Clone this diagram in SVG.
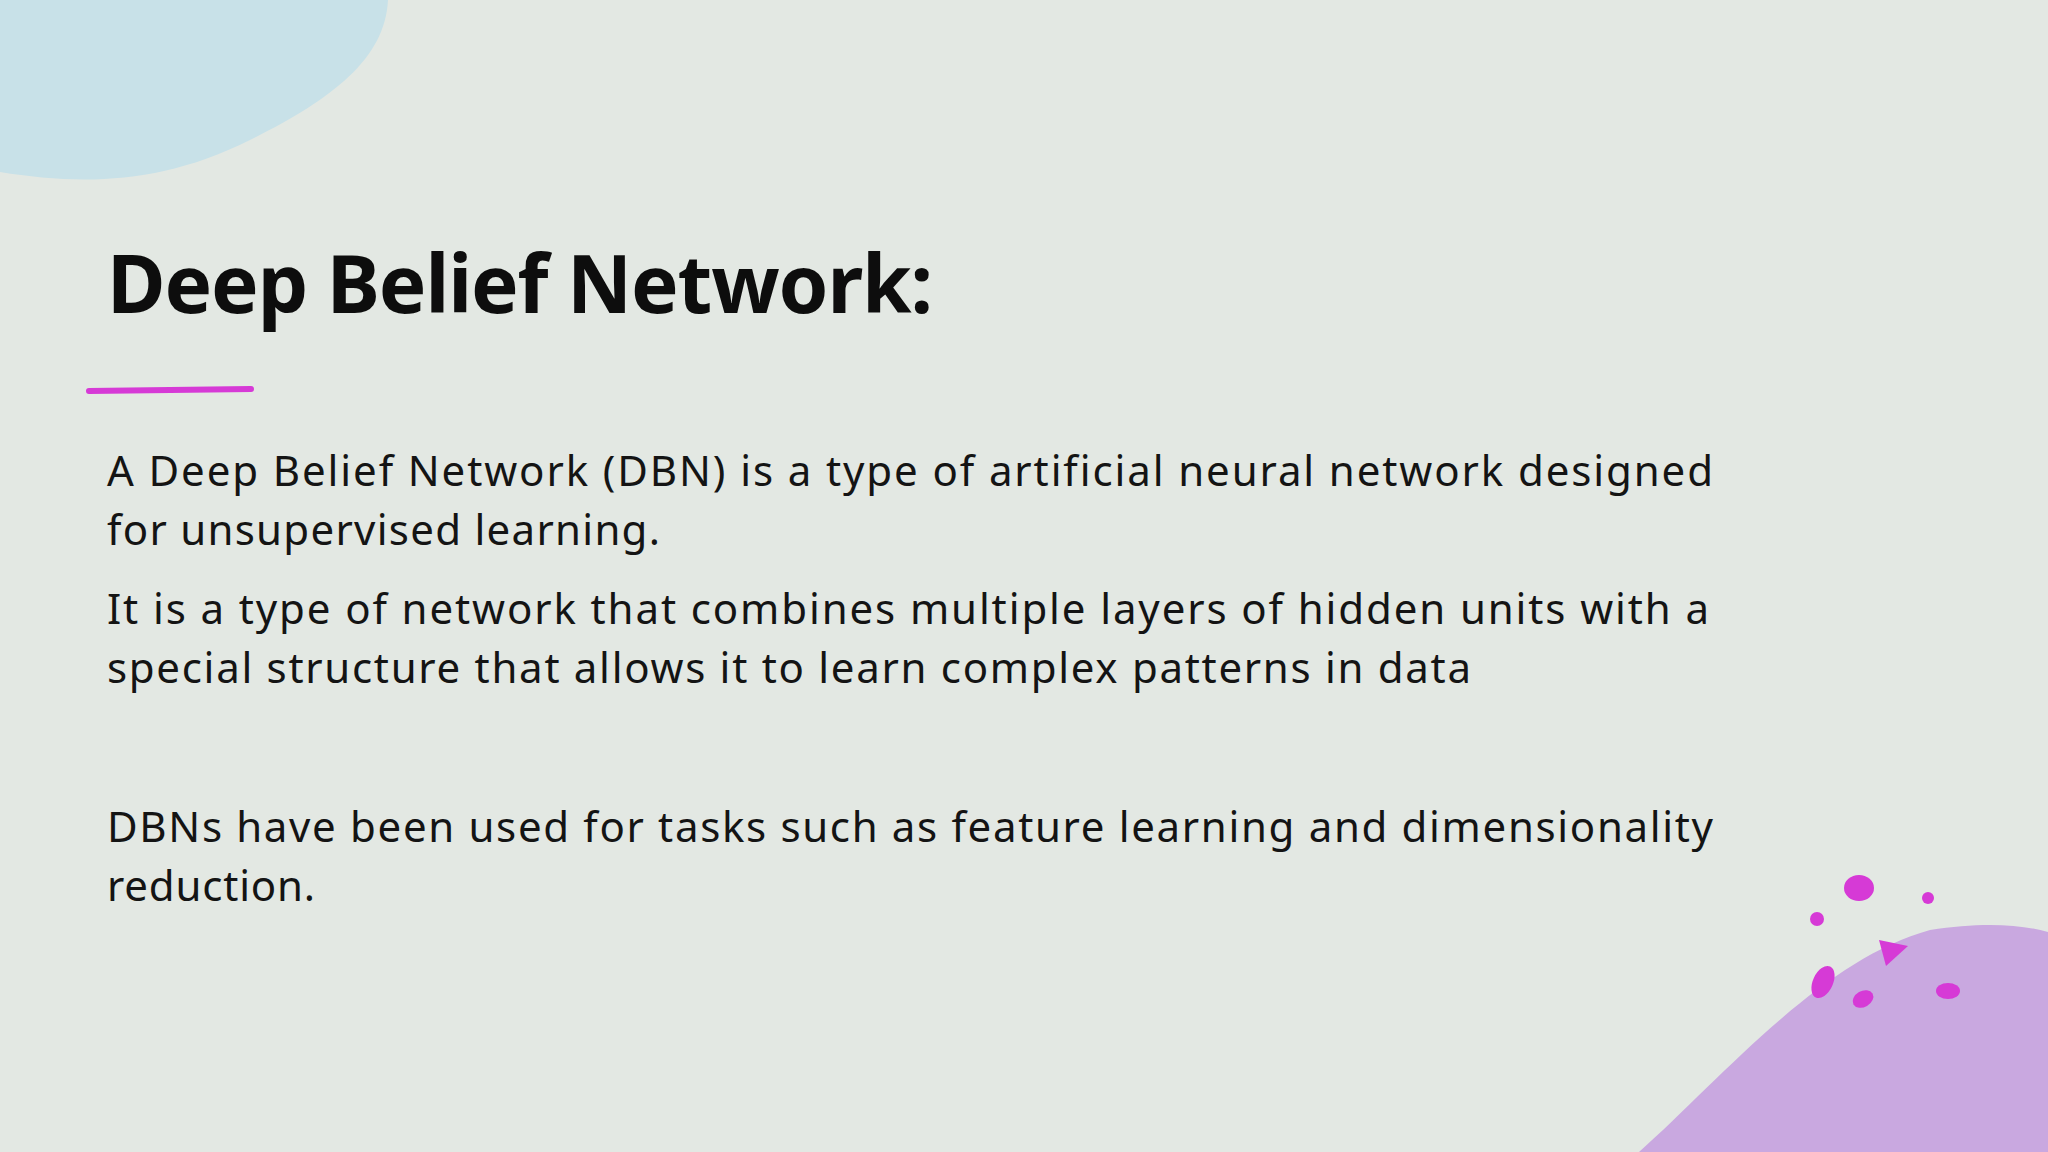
<svg xmlns="http://www.w3.org/2000/svg" width="2048" height="1152" viewBox="0 0 2048 1152">
<style>
.b{font-family:"Noto Sans","Open Sans",sans-serif;font-size:42px;fill:#141414;letter-spacing:2px}
.d{fill:#d63ad6}
</style>
<rect width="2048" height="1152" fill="#e3e8e3"/>
<path d="M0 0H388C385 60 330 100 250 140C160 185 80 185 0 172Z" fill="#c8e1e8"/>
<path d="M1639 1152C1720 1080 1820 960 1930 930C1980 922 2020 924 2048 932V1152Z" fill="#c9a8e0"/>
<g id="dots">
<ellipse class="d" cx="1859" cy="888" rx="15" ry="13"/>
<circle class="d" cx="1928" cy="898" r="6"/>
<circle class="d" cx="1817" cy="919" r="7"/>
<path class="d" d="M1879 940L1908 946L1886 966Z"/>
<ellipse class="d" cx="1823" cy="982" rx="10" ry="17" transform="rotate(25 1823 982)"/>
<ellipse class="d" cx="1863" cy="999" rx="11" ry="8" transform="rotate(-30 1863 999)"/>
<ellipse class="d" cx="1948" cy="991" rx="12" ry="8"/>
</g>
<g id="title">
<text x="107" y="313" font-family="Noto Sans,Open Sans,sans-serif" font-size="80" font-weight="bold" fill="#0d0d0d" textLength="826" lengthAdjust="spacing">Deep Belief Network:</text>
<path d="M89 391L251 389" stroke="#d63ad6" stroke-width="6" stroke-linecap="round"/>
</g>
<g id="body">
<text class="b" x="107" y="486" textLength="1608">A Deep Belief Network (DBN) is a type of artificial neural network designed</text>
<text class="b" x="107" y="545" textLength="555">for unsupervised learning.</text>
<text class="b" x="107" y="624" textLength="1604">It is a type of network that combines multiple layers of hidden units with a</text>
<text class="b" x="107" y="683" textLength="1366">special structure that allows it to learn complex patterns in data</text>
<text class="b" x="107" y="842" textLength="1608">DBNs have been used for tasks such as feature learning and dimensionality</text>
<text class="b" x="107" y="901" textLength="210">reduction.</text>
</g>
</svg>
